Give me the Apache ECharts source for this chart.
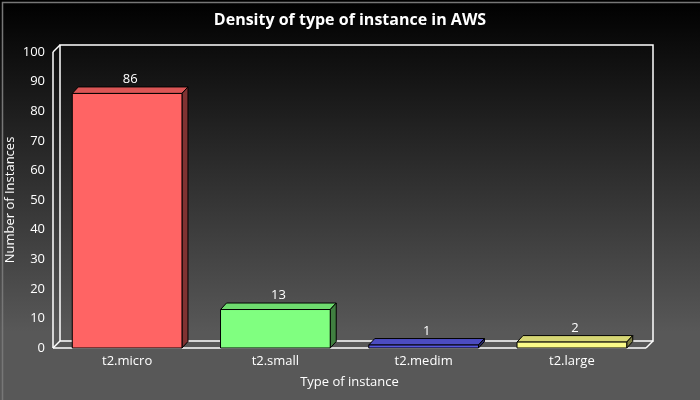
<!DOCTYPE html>
<html>
<head>
<meta charset="utf-8">
<script src="https://cdn.jsdelivr.net/npm/echarts@6/dist/echarts.min.js"></script>
<style>
    html, body {margin: 0; padding: 0; background: #000;}
    #chart {width: 700px; height: 400px;}
</style>
</head>
<body>
<div id="chart"></div>
<script>
var categories = ['t2.micro', 't2.small', 't2.medim', 't2.large'];
var instances = [86, 13, 1, 2];
var barColors = ['#ff6464', '#80ff80', '#5858e0', '#fafa88'];

// 3d depth offset
var DX = 7, DY = 7;
var FONT = '"Open Sans", "Noto Sans", sans-serif';

function shade(hex, f) {
    var n = parseInt(hex.slice(1), 16);
    var r = Math.round(((n >> 16) & 255) * f),
        g = Math.round(((n >> 8) & 255) * f),
        b = Math.round((n & 255) * f);
    return 'rgb(' + r + ',' + g + ',' + b + ')';
}

function renderFrame(params, api) {
    var cs = params.coordSys;
    var x = cs.x, y = cs.y, w = cs.width, h = cs.height;
    var st = {stroke: '#fff', lineWidth: 1.5, fill: null};
    return {
        type: 'group',
        children: [
            {type: 'rect', shape: {x: x + DX, y: y - DY, width: w, height: h}, style: st},
            {type: 'line', shape: {x1: x, y1: y, x2: x, y2: y + h}, style: st},
            {type: 'line', shape: {x1: x, y1: y, x2: x + DX, y2: y - DY}, style: st},
            {type: 'line', shape: {x1: x, y1: y + h, x2: x + DX, y2: y + h - DY}, style: st},
            {type: 'line', shape: {x1: x, y1: y + h, x2: x + w, y2: y + h}, style: st},
            {type: 'line', shape: {x1: x + w, y1: y + h, x2: x + w + DX, y2: y + h - DY}, style: st}
        ]
    };
}

function renderBar(params, api) {
    var i = api.value(0), v = api.value(1);
    var top = api.coord([i, v]), base = api.coord([i, 0]);
    var w = api.size([1, 0])[0] * 0.74;
    var dx = DX - 1, dy = DY - 0.5;
    var x0 = top[0] - w / 2, x1 = top[0] + w / 2, y0 = top[1], y1 = base[1];
    var c = barColors[params.dataIndex];
    return {
        type: 'group',
        children: [
            {type: 'polygon', shape: {points: [[x0, y0], [x0 + dx, y0 - dy], [x1 + dx, y0 - dy], [x1, y0]]},
                style: {fill: shade(c, 0.86), stroke: '#000', lineWidth: 1}},
            {type: 'polygon', shape: {points: [[x1, y0], [x1 + dx, y0 - dy], [x1 + dx, y1 - dy], [x1, y1]]},
                style: {fill: shade(c, 0.5), stroke: '#000', lineWidth: 1}},
            {type: 'rect', shape: {x: x0, y: y0, width: w, height: y1 - y0},
                style: {fill: c, stroke: '#000', lineWidth: 1}},
            {type: 'text', style: {text: String(v), x: (x0 + x1) / 2 + dx / 2, y: y0 - dy - 1,
                textAlign: 'center', textVerticalAlign: 'bottom', fill: '#fff', font: '500 13px ' + FONT}}
        ]
    };
}

var chart = echarts.init(document.getElementById('chart'));
var option = {
    backgroundColor: new echarts.graphic.LinearGradient(0, 0, 0, 1, [
        {offset: 0, color: '#000'},
        {offset: 0.83, color: '#585858'},
        {offset: 1, color: '#585858'}
    ]),
    title: {
        text: 'Density of type of instance in AWS',
        left: 'center',
        top: 7,
        textStyle: {color: '#fff', fontSize: 16, fontWeight: 'bold', fontFamily: FONT}
    },
    graphic: [{
        type: 'rect', left: 0, top: 0, z: 100,
        shape: {x: 0.5, y: 0.5, width: 699, height: 399},
        style: {fill: null, stroke: '#777', lineWidth: 1.5}
    }],
    grid: {left: 53, right: 54, top: 52, bottom: 52, outerBoundsMode: 'none', containLabel: false},
    xAxis: {
        type: 'category',
        data: categories,
        axisLine: {show: false},
        axisTick: {show: false},
        axisLabel: {color: '#fff', fontSize: 13, fontWeight: 500, fontFamily: FONT, margin: 7},
        name: 'Type of instance',
        nameLocation: 'middle',
        nameMoveOverlap: false,
        nameGap: 28,
        nameTextStyle: {color: '#fff', fontSize: 13, fontWeight: 500, fontFamily: FONT}
    },
    yAxis: {
        type: 'value',
        min: 0,
        max: 100,
        interval: 10,
        axisLine: {show: false},
        axisTick: {show: false},
        splitLine: {show: false},
        axisLabel: {color: '#fff', fontSize: 13, fontWeight: 500, fontFamily: FONT, margin: 8},
        name: 'Number of Instances',
        nameLocation: 'middle',
        nameMoveOverlap: false,
        nameGap: 36,
        nameTextStyle: {color: '#fff', fontSize: 13, fontWeight: 500, fontFamily: FONT}
    },
    series: [
        {
            type: 'custom',
            renderItem: renderFrame,
            data: [[0, 0]],
            silent: true,
            z: 1
        },
        {
            type: 'custom',
            renderItem: renderBar,
            encode: {x: 0, y: 1},
            data: instances.map(function (v, i) { return [i, v]; }),
            z: 2
        }
    ]
};
chart.setOption(option);
</script>
</body>
</html>
